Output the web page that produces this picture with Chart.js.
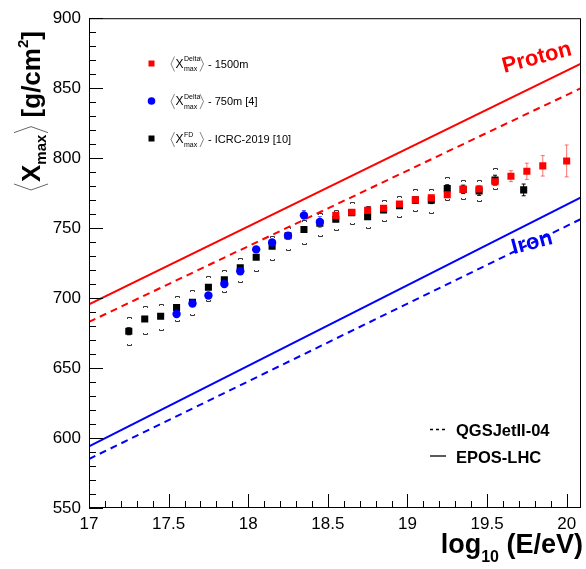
<!DOCTYPE html>
<html>
<head>
<meta charset="utf-8">
<script src="https://cdn.jsdelivr.net/npm/chart.js@4"></script>
<style>
html, body { margin: 0; padding: 0; background: #fff; }
#wrap { width: 586px; height: 569px; }
</style>
</head>
<body>
<div id="wrap"><canvas id="grafico" width="586" height="569"></canvas></div>
<script>
// FD <Xmax> (ICRC-2019)
const fdLogE = [17.25, 17.35, 17.45, 17.55, 17.65, 17.75, 17.85, 17.95, 18.05, 18.15, 18.25, 18.35, 18.45, 18.55, 18.65, 18.75, 18.85, 18.95, 19.05, 19.15, 19.25, 19.35, 19.45, 19.55, 19.73];
const fdXmax = [676.3, 685.1, 687.0, 693.3, 697.0, 707.7, 713.1, 721.7, 729.2, 737.1, 744.6, 749.0, 753.5, 756.3, 761.0, 758.1, 763.0, 766.0, 770.0, 770.0, 778.2, 777.7, 776.6, 784.3, 777.3];
const fdStat = [2.5, 1.8, 1.5, 1.3, 1.2, 1.0, 1.0, 1.0, 1.0, 1.0, 1.0, 1.2, 1.2, 1.3, 1.5, 1.7, 1.9, 2.0, 2.2, 2.5, 2.8, 3.0, 3.2, 3.5, 4.2];
const fdSysUp = [10, 9, 9, 8, 9, 8, 7, 7, 7, 7, 6, 7, 7, 7, 8, 8, 7, 7, 8, 8, 8, 7, 8, 9, null];
const fdSysDown = [10, 11, 10, 10, 9, 10, 9, 10, 10, 10, 10, 10, 9, 8, 8, 8, 8, 8, 8, 9, 8, 7, 7, 6, null];

// SD 750 m
const sd750LogE = [17.55, 17.65, 17.75, 17.85, 17.95, 18.05, 18.15, 18.25, 18.35, 18.45];
const sd750Xmax = [688.6, 696.1, 701.9, 710.1, 719.2, 734.8, 739.7, 744.6, 759.1, 754.4];
const sd750Err = [1.5, 1.5, 1.5, 1.5, 1.8, 2.0, 2.0, 2.2, 3.5, 3.8];

// SD 1500 m
const sd1500LogE = [18.55, 18.65, 18.75, 18.85, 18.95, 19.05, 19.15, 19.25, 19.35, 19.45, 19.55, 19.65, 19.75, 19.85, 20.0];
const sd1500Xmax = [759.1, 761.4, 762.8, 764.2, 767.2, 770.3, 771.6, 773.9, 777.7, 778.0, 783.1, 787.1, 790.6, 794.5, 798.0];
const sd1500Err = [1.2, 1.2, 1.3, 1.4, 1.5, 1.6, 1.8, 2.0, 2.2, 2.5, 2.5, 3.9, 5.8, 7.3, 11.4];

// modelos (extremos de las rectas)
const modeloLogE = [17, 20.09];
const protonEpos = [695.5, 867.5];
const protonQgs = [683, 850];
const ironEpos = [594, 772];
const ironQgs = [585, 756.5];

const xTicks = [17, 17.5, 18, 18.5, 19, 19.5, 20];
const yTicks = [550, 600, 650, 700, 750, 800, 850, 900];

const FUENTE = '"Liberation Sans", Arial, Helvetica, sans-serif';

function puntos(xs, ys) {
    return xs.map((x, i) => ({ x: x, y: ys[i] }));
}

// dibuja < X^sup_sub > con corchetes angulares finos
function textoXmax(ctx, x, y, sup, resto) {
    ctx.save();
    ctx.strokeStyle = '#666';
    ctx.lineWidth = 0.8;
    ctx.beginPath();
    ctx.moveTo(x + 3.5, y - 11);
    ctx.lineTo(x, y - 3.5);
    ctx.lineTo(x + 3.5, y + 4);
    ctx.stroke();
    ctx.fillStyle = '#000';
    ctx.textBaseline = 'alphabetic';
    ctx.font = '12px ' + FUENTE;
    ctx.fillText('X', x + 4.5, y);
    ctx.font = '7px ' + FUENTE;
    ctx.fillText(sup, x + 13, y - 6.5);
    ctx.fillText('max', x + 13, y + 3.5);
    ctx.beginPath();
    ctx.moveTo(x + 29, y - 11);
    ctx.lineTo(x + 32.5, y - 3.5);
    ctx.lineTo(x + 29, y + 4);
    ctx.stroke();
    ctx.font = '11px ' + FUENTE;
    ctx.fillText(resto, x + 37, y);
    ctx.restore();
}

const decoracion = {
    id: 'decoracion',
    beforeDatasetsDraw(chart) {
        const ctx = chart.ctx;
        const xs = chart.scales.x, ys = chart.scales.y;
        // barras de error
        function barras(lx, ly, le, color) {
            ctx.save();
            ctx.strokeStyle = color;
            ctx.lineWidth = 1;
            for (let i = 0; i < lx.length; i++) {
                const px = xs.getPixelForValue(lx[i]);
                const p1 = ys.getPixelForValue(ly[i] + le[i]);
                const p2 = ys.getPixelForValue(ly[i] - le[i]);
                ctx.beginPath();
                ctx.moveTo(px, p1); ctx.lineTo(px, p2);
                ctx.moveTo(px - 2, p1); ctx.lineTo(px + 2, p1);
                ctx.moveTo(px - 2, p2); ctx.lineTo(px + 2, p2);
                ctx.stroke();
            }
            ctx.restore();
        }
        barras(fdLogE, fdXmax, fdStat, '#000');
        barras(sd750LogE, sd750Xmax, sd750Err, 'rgba(0,0,255,0.6)');
        barras(sd1500LogE, sd1500Xmax, sd1500Err, 'rgba(255,0,0,0.55)');

        // corchetes sistematicos FD
        ctx.save();
        ctx.strokeStyle = '#333';
        ctx.lineWidth = 1;
        for (let i = 0; i < fdLogE.length; i++) {
            if (fdSysUp[i] == null) continue;
            const px = Math.round(xs.getPixelForValue(fdLogE[i])) + 0.5;
            const pt = Math.round(ys.getPixelForValue(fdXmax[i] + fdSysUp[i])) + 0.5;
            const pb = Math.round(ys.getPixelForValue(fdXmax[i] - fdSysDown[i])) + 0.5;
            ctx.beginPath();
            ctx.moveTo(px - 2, pt + 1.5); ctx.lineTo(px - 2, pt); ctx.lineTo(px + 2, pt); ctx.lineTo(px + 2, pt + 1.5);
            ctx.moveTo(px - 2, pb - 1.5); ctx.lineTo(px - 2, pb); ctx.lineTo(px + 2, pb); ctx.lineTo(px + 2, pb - 1.5);
            ctx.stroke();
        }
        ctx.restore();
    },
    afterDraw(chart) {
        const ctx = chart.ctx;
        const a = chart.chartArea;
        const xs = chart.scales.x, ys = chart.scales.y;

        // marco y marcas de los ejes
        ctx.save();
        ctx.strokeStyle = '#000';
        ctx.lineWidth = 1;
        ctx.strokeRect(a.left + 0.5, a.top + 0.5, a.right - a.left - 1, a.bottom - a.top - 1);
        ctx.beginPath();
        for (let v = 550; v <= 900.001; v += 10) {
            const py = Math.round(ys.getPixelForValue(v)) + 0.5;
            const largo = (Math.round(v) % 50 === 0) ? 14 : 7;
            ctx.moveTo(a.left, py); ctx.lineTo(a.left + largo, py);
        }
        for (let k = 0; k <= 30; k++) {
            const v = 17 + k * 0.1;
            const px = Math.round(xs.getPixelForValue(v)) + 0.5;
            const largo = (k % 5 === 0) ? 14 : 7;
            ctx.moveTo(px, a.bottom); ctx.lineTo(px, a.bottom - largo);
        }
        ctx.stroke();
        ctx.restore();

        // leyenda superior izquierda
        ctx.save();
        ctx.fillStyle = '#ff0000';
        ctx.fillRect(148.5, 60.5, 6, 6);
        ctx.fillStyle = '#0000ff';
        ctx.beginPath();
        ctx.arc(151.5, 101, 3.8, 0, Math.PI * 2);
        ctx.fill();
        ctx.fillStyle = '#000';
        ctx.fillRect(148.5, 135.5, 6, 6);
        ctx.restore();
        textoXmax(ctx, 171, 67.5, 'Delta', '- 1500m');
        textoXmax(ctx, 171, 105, 'Delta', '- 750m [4]');
        textoXmax(ctx, 171, 143, 'FD', '- ICRC-2019 [10]');

        // leyenda inferior derecha
        ctx.save();
        ctx.strokeStyle = '#000';
        ctx.lineWidth = 1.3;
        ctx.setLineDash([3, 3]);
        ctx.beginPath();
        ctx.moveTo(430, 429.5); ctx.lineTo(446, 429.5);
        ctx.stroke();
        ctx.setLineDash([]);
        ctx.beginPath();
        ctx.moveTo(430, 456); ctx.lineTo(446, 456);
        ctx.stroke();
        ctx.fillStyle = '#000';
        ctx.font = 'bold 16.5px ' + FUENTE;
        ctx.fillText('QGSJetII-04', 456, 436);
        ctx.fillText('EPOS-LHC', 456, 463);
        ctx.restore();

        // etiquetas Proton / Iron
        ctx.save();
        ctx.font = 'bold 22px ' + FUENTE;
        ctx.textAlign = 'center';
        ctx.textBaseline = 'middle';
        ctx.fillStyle = '#ff0000';
        ctx.translate(537, 58);
        ctx.rotate(-15 * Math.PI / 180);
        ctx.fillText('Proton', 0, 0);
        ctx.restore();
        ctx.save();
        ctx.font = 'bold 22px ' + FUENTE;
        ctx.textAlign = 'center';
        ctx.textBaseline = 'middle';
        ctx.fillStyle = '#0000ff';
        ctx.translate(532, 243);
        ctx.rotate(-15 * Math.PI / 180);
        ctx.fillText('Iron', 0, 0);
        ctx.restore();

        // titulo eje x
        ctx.save();
        ctx.fillStyle = '#000';
        ctx.textBaseline = 'alphabetic';
        const fGrande = 'bold 27px ' + FUENTE;
        const fChica = 'bold 16px ' + FUENTE;
        ctx.font = fGrande;
        const w1 = ctx.measureText('log').width;
        const w3 = ctx.measureText(' (E/eV)').width;
        ctx.font = fChica;
        const w2 = ctx.measureText('10').width;
        let x0 = 583 - (w1 + w2 + w3);
        ctx.font = fGrande;
        ctx.fillText('log', x0, 553);
        ctx.font = fChica;
        ctx.fillText('10', x0 + w1, 562);
        ctx.font = fGrande;
        ctx.fillText(' (E/eV)', x0 + w1 + w2, 553);
        ctx.restore();

        // titulo eje y (rotado)
        ctx.save();
        ctx.translate(40, 190);
        ctx.rotate(-Math.PI / 2);
        ctx.fillStyle = '#000';
        ctx.strokeStyle = '#666';
        ctx.lineWidth = 1;
        ctx.textBaseline = 'alphabetic';
        const fTit = 'bold 26px ' + FUENTE;
        let cx = 0;
        ctx.beginPath();
        ctx.moveTo(cx + 6, -26); ctx.lineTo(cx, -9); ctx.lineTo(cx + 6, 8);
        ctx.stroke();
        cx += 8;
        ctx.font = fTit;
        ctx.fillText('X', cx, 0);
        cx += ctx.measureText('X').width;
        ctx.font = 'bold 15px ' + FUENTE;
        ctx.fillText('max', cx, 6);
        cx += ctx.measureText('max').width + 2;
        ctx.beginPath();
        ctx.moveTo(cx, -26); ctx.lineTo(cx + 6, -9); ctx.lineTo(cx, 8);
        ctx.stroke();
        cx += 8;
        ctx.font = fTit;
        ctx.fillText(' [g/cm', cx, 0);
        cx += ctx.measureText(' [g/cm').width;
        ctx.font = 'bold 15px ' + FUENTE;
        ctx.fillText('2', cx, -12);
        cx += ctx.measureText('2').width;
        ctx.font = fTit;
        ctx.fillText(']', cx, 0);
        ctx.restore();
    }
};

const ctx = document.getElementById('grafico').getContext('2d');

new Chart(ctx, {
    type: 'scatter',
    data: {
        datasets: [
            {
                label: 'SD 1500m',
                data: puntos(sd1500LogE, sd1500Xmax),
                pointStyle: 'rect',
                pointRadius: 5,
                backgroundColor: '#ff0000',
                borderColor: '#ff0000',
                borderWidth: 0
            },
            {
                label: 'SD 750m',
                data: puntos(sd750LogE, sd750Xmax),
                pointStyle: 'circle',
                pointRadius: 4.2,
                backgroundColor: '#0000ff',
                borderColor: '#0000ff',
                borderWidth: 0
            },
            {
                label: 'FD',
                data: puntos(fdLogE, fdXmax),
                pointStyle: 'rect',
                pointRadius: 5,
                backgroundColor: '#000',
                borderColor: '#000',
                borderWidth: 0
            },
            {
                label: 'Proton EPOS-LHC',
                data: puntos(modeloLogE, protonEpos),
                showLine: true, pointRadius: 0,
                borderColor: '#ff0000', borderWidth: 2
            },
            {
                label: 'Proton QGSJetII-04',
                data: puntos(modeloLogE, protonQgs),
                showLine: true, pointRadius: 0,
                borderColor: '#ff0000', borderWidth: 2, borderDash: [7, 5]
            },
            {
                label: 'Iron EPOS-LHC',
                data: puntos(modeloLogE, ironEpos),
                showLine: true, pointRadius: 0,
                borderColor: '#0000ff', borderWidth: 2
            },
            {
                label: 'Iron QGSJetII-04',
                data: puntos(modeloLogE, ironQgs),
                showLine: true, pointRadius: 0,
                borderColor: '#0000ff', borderWidth: 2, borderDash: [7, 5]
            }
        ]
    },
    options: {
        responsive: false,
        animation: false,
        layout: { padding: { top: 8, right: 3, left: 0, bottom: 0 } },
        plugins: {
            legend: { display: false },
            tooltip: { enabled: false }
        },
        scales: {
            x: {
                type: 'linear',
                min: 17,
                max: 20.09,
                afterBuildTicks: (s) => { s.ticks = xTicks.map(v => ({ value: v })); },
                afterFit: (s) => { s.height = 61; },
                grid: { display: false, drawTicks: false },
                border: { display: false },
                ticks: {
                    autoSkip: false,
                    maxRotation: 0,
                    padding: 6,
                    color: '#000',
                    font: { family: FUENTE, size: 17 },
                    callback: (v) => String(v)
                }
            },
            y: {
                type: 'linear',
                min: 550,
                max: 900,
                afterBuildTicks: (s) => { s.ticks = yTicks.map(v => ({ value: v })); },
                afterFit: (s) => { s.width = 89; },
                grid: { display: false, drawTicks: false },
                border: { display: false },
                ticks: {
                    autoSkip: false,
                    padding: 8,
                    color: '#000',
                    font: { family: FUENTE, size: 17 },
                    callback: (v) => String(v)
                }
            }
        }
    },
    plugins: [decoracion]
});
</script>
</body>
</html>
